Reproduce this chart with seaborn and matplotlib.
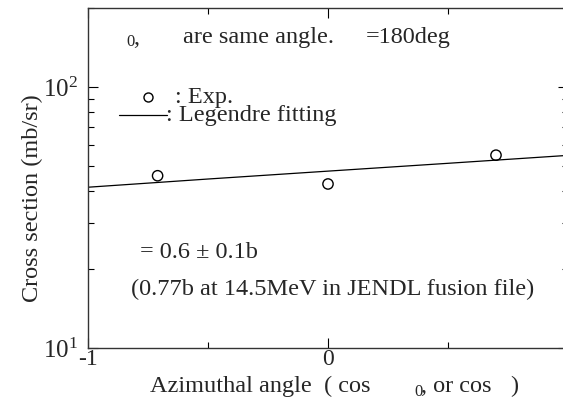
import matplotlib
matplotlib.use("Agg")
import matplotlib.pyplot as plt
import matplotlib.ticker as mticker
import numpy as np
import pandas as pd
import seaborn as sns

# Measured cross sections vs cosine of azimuthal angle
exp_cos = [-0.71, 0.0, 0.70]
exp_xs = [45.7, 42.5, 54.8]

# Legendre fitting curve
fit_cos = [-1.0, -0.5, 0.0, 0.5, 1.0]
fit_xs = [41.3, 44.4, 47.6, 51.0, 54.7]

x_ticks = [-1, 0]
x_labels = ["-1", "0"]

sns.set_style("ticks")
plt.rcParams["font.family"] = ["Liberation Serif", "DejaVu Serif"]
plt.rcParams["mathtext.fontset"] = "custom"
plt.rcParams["mathtext.rm"] = "Liberation Serif"
plt.rcParams["mathtext.it"] = "Liberation Serif:italic"

exp_df = pd.DataFrame({"cos": exp_cos, "xs": exp_xs})
fit_df = pd.DataFrame({"cos": fit_cos, "xs": fit_xs})

W, H = 563, 409
fig = plt.figure(figsize=(W / 100, H / 100), dpi=100)
ax = fig.add_axes([88 / W, 61 / H, 480 / W, 339.6 / H])

sns.lineplot(data=fit_df, x="cos", y="xs", ax=ax, color="black", lw=0.9)
sns.scatterplot(data=exp_df, x="cos", y="xs", ax=ax, marker="o", s=55,
                facecolor="none", edgecolor="black", linewidth=1.0)

ax.set_yscale("log")
ax.set_xlim(-1, 1)
ax.set_ylim(10, 200)

ax.set_xticks(x_ticks)
ax.set_xticklabels(x_labels)
ax.xaxis.set_minor_locator(mticker.FixedLocator([-0.5, 0.5]))
ax.yaxis.set_major_locator(mticker.LogLocator(base=10, numticks=10))
ax.yaxis.set_minor_locator(mticker.LogLocator(base=10, subs=np.arange(2, 10), numticks=10))
ax.yaxis.set_minor_formatter(mticker.NullFormatter())
ax.tick_params(which="both", direction="in", top=True, right=True,
               color="black", width=0.8)
ax.tick_params(which="major", length=7)
ax.tick_params(which="minor", length=4)
ax.tick_params(axis="x", which="major", labelsize=17, pad=1)
ax.tick_params(axis="y", which="major", labelsize=18, pad=7)
for sp in ax.spines.values():
    sp.set_visible(True)
    sp.set_linewidth(1.0)
    sp.set_color("#333333")

ax.set_xlabel("")
ax.set_ylabel("")

fs = 17.5
sub = 12


def put(x, y, s, size=fs, **kw):
    fig.text(x / W, 1 - y / H, s, ha="left", va="center", fontsize=size, **kw)


# axis titles
fig.text(32 / W, 1 - 198 / H, "Cross section (mb/sr)", rotation=90,
         ha="center", va="center", fontsize=fs)
put(150, 386, "Azimuthal angle  ( cos")
put(414, 392, "0", size=sub)
put(421, 386, ", or cos")
put(510, 386, ")")

# annotations
put(126, 42, "0", size=sub)
put(133, 38, ",")
put(183, 37, "are same angle.")
put(366, 37, "=180deg")

fig.add_artist(plt.Line2D([147.7 / W], [1 - 96.5 / H], marker="o", markersize=6.5,
                          markerfacecolor="none", markeredgecolor="black",
                          markeredgewidth=1.0, linestyle="none"))
put(175, 97, ": Exp.")
fig.add_artist(plt.Line2D([119 / W, 167 / W], [1 - 115 / H, 1 - 115 / H],
                          color="black", lw=0.9))
put(166, 116, ": Legendre fitting")

put(140, 252, "= 0.6 \u00b1 0.1b")
put(131, 289, "(0.77b at 14.5MeV in JENDL fusion file)")

fig.savefig("out.png", dpi=100)
